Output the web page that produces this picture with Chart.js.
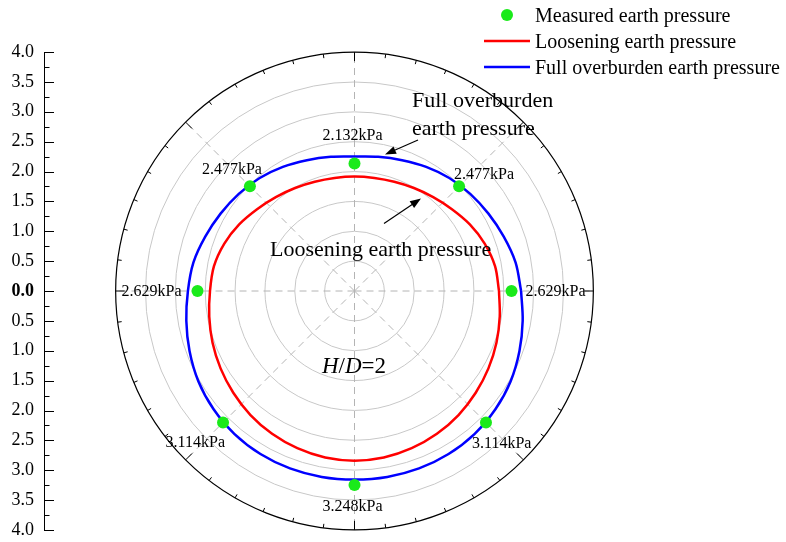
<!DOCTYPE html>
<html>
<head>
<meta charset="utf-8">
<script src="https://cdn.jsdelivr.net/npm/chart.js@4.4.1/dist/chart.umd.min.js"></script>
<style>
  body { margin: 0; background: #fff; }
  canvas { display: block; }
</style>
</head>
<body>
<canvas id="polar" width="786" height="542"></canvas>
<script>
// polar angle in degrees, counter-clockwise from the right-hand springline
var angles = [0, 10, 20, 30, 40, 50, 60, 70, 80, 90, 100, 110, 120, 130, 140, 150, 160, 170, 180,
              190, 200, 210, 220, 230, 240, 250, 260, 270, 280, 290, 300, 310, 320, 330, 340, 350, 360];
var loosening = [2.42, 2.39, 2.32, 2.23, 2.13, 2.05, 1.99, 1.945, 1.92, 1.915,
                 1.92, 1.945, 1.99, 2.05, 2.13, 2.23, 2.32, 2.39, 2.42,
                 2.47, 2.53, 2.59, 2.65, 2.71, 2.76, 2.80, 2.83, 2.84,
                 2.83, 2.80, 2.76, 2.71, 2.65, 2.59, 2.53, 2.47, 2.42];
var overburden = [2.79, 2.74, 2.66, 2.59, 2.53, 2.47, 2.40, 2.33, 2.28, 2.25,
                  2.28, 2.33, 2.40, 2.47, 2.53, 2.59, 2.66, 2.74, 2.79,
                  2.86, 2.94, 3.02, 3.08, 3.125, 3.15, 3.16, 3.16, 3.155,
                  3.16, 3.16, 3.15, 3.125, 3.08, 3.02, 2.94, 2.86, 2.79];
var measuredAngles = [0, 45, 90, 135, 180, 225, 270, 315];
var measured = [2.629, 2.477, 2.132, 2.477, 2.629, 3.114, 3.248, 3.114];
var rings = [0.5, 1, 1.5, 2, 2.5, 3, 3.5];
var rMax = 4;

var FONT = '"Liberation Serif", "Times New Roman", serif';

function toXY(r, deg) {
  var a = deg * Math.PI / 180;
  return { x: r * Math.cos(a), y: r * Math.sin(a) };
}

// where each measured value label sits, relative to its point (px)
var labelPlace = [
  { dx: 14, dy: 5, align: 'left' },
  { dx: -5, dy: -7, align: 'left' },
  { dx: -2, dy: -24, align: 'center' },
  { dx: 12, dy: -12, align: 'right' },
  { dx: -16, dy: 5, align: 'right' },
  { dx: 2, dy: 24, align: 'right' },
  { dx: -2, dy: 26, align: 'center' },
  { dx: -14, dy: 25, align: 'left' }
];

function arrow(ctx, x0, y0, x1, y1) {
  var a = Math.atan2(y1 - y0, x1 - x0);
  ctx.beginPath();
  ctx.moveTo(x0, y0);
  ctx.lineTo(x1 - 8 * Math.cos(a), y1 - 8 * Math.sin(a));
  ctx.stroke();
  ctx.beginPath();
  ctx.moveTo(x1, y1);
  ctx.lineTo(x1 - 11 * Math.cos(a) + 4 * Math.sin(a), y1 - 11 * Math.sin(a) - 4 * Math.cos(a));
  ctx.lineTo(x1 - 11 * Math.cos(a) - 4 * Math.sin(a), y1 - 11 * Math.sin(a) + 4 * Math.cos(a));
  ctx.closePath();
  ctx.fill();
}

var polarFrame = {
  id: 'polarFrame',
  // pin the radial axis to a fixed span so the plot stays round
  afterLayout: function (chart) {
    var ys = chart.scales.y, area = chart.chartArea;
    ys.top = 52;
    ys.bottom = 530;
    ys.height = ys.bottom - ys.top;
    ys.configure();
    area.top = ys.top;
    area.bottom = ys.bottom;
    area.height = ys.height;
  },
  beforeDatasetsDraw: function (chart) {
    var ctx = chart.ctx, xs = chart.scales.x, ys = chart.scales.y;
    var cx = xs.getPixelForValue(0), cy = ys.getPixelForValue(0);
    var unit = xs.getPixelForValue(1) - cx;
    ctx.save();
    // grey rings
    ctx.strokeStyle = '#c8c8c8';
    ctx.lineWidth = 1;
    rings.forEach(function (r) {
      ctx.beginPath();
      ctx.arc(cx, cy, r * unit, 0, Math.PI * 2);
      ctx.stroke();
    });
    // dashed spokes
    ctx.strokeStyle = '#b4b4b4';
    ctx.setLineDash([7, 5]);
    for (var d = 0; d < 360; d += 45) {
      var p = toXY(rMax, d);
      ctx.beginPath();
      ctx.moveTo(cx, cy);
      ctx.lineTo(xs.getPixelForValue(p.x), ys.getPixelForValue(p.y));
      ctx.stroke();
    }
    ctx.setLineDash([]);
    // outer angular axis with inward ticks
    ctx.strokeStyle = '#000';
    ctx.lineWidth = 1.2;
    ctx.beginPath();
    ctx.arc(cx, cy, rMax * unit, 0, Math.PI * 2);
    ctx.stroke();
    ctx.lineWidth = 1;
    for (var t = 0; t < 360; t += 7.5) {
      var len = t % 45 === 0 ? 9 : 4;
      var a = t * Math.PI / 180;
      var R = rMax * unit;
      ctx.beginPath();
      ctx.moveTo(cx + R * Math.cos(a), cy - R * Math.sin(a));
      ctx.lineTo(cx + (R - len) * Math.cos(a), cy - (R - len) * Math.sin(a));
      ctx.stroke();
    }
    // inward ticks on the radial axis
    var left = chart.chartArea.left;
    for (var v = -rMax; v <= rMax + 1e-9; v += 0.25) {
      var y = Math.round(ys.getPixelForValue(v)) + 0.5;
      var major = Math.abs(v * 2 - Math.round(v * 2)) < 1e-9;
      ctx.beginPath();
      ctx.moveTo(left, y);
      ctx.lineTo(left + (major ? 10 : 5.5), y);
      ctx.stroke();
    }
    ctx.restore();
  },
  afterDraw: function (chart) {
    var ctx = chart.ctx, xs = chart.scales.x, ys = chart.scales.y;
    ctx.save();
    ctx.fillStyle = '#000';
    ctx.strokeStyle = '#000';
    ctx.textBaseline = 'alphabetic';

    // value labels next to the measured points
    ctx.font = '16px ' + FONT;
    measured.forEach(function (v, i) {
      var p = toXY(v, measuredAngles[i]);
      var px = xs.getPixelForValue(p.x), py = ys.getPixelForValue(p.y);
      var lp = labelPlace[i];
      ctx.textAlign = lp.align;
      ctx.fillText(v.toFixed(3) + 'kPa', px + lp.dx, py + lp.dy);
    });

    // call-outs
    ctx.textAlign = 'left';
    ctx.font = '22px ' + FONT;
    ctx.fillText('Full overburden', 412, 107);
    ctx.fillText('earth pressure', 412, 135);
    ctx.fillText('Loosening earth pressure', 270, 256);
    ctx.lineWidth = 1.2;
    arrow(ctx, 418, 140, 385, 154.5);
    arrow(ctx, 384, 223.5, 421, 198.5);

    // H/D=2
    var x = 322, base = 373;
    [['H', 'italic '], ['/', ''], ['D', 'italic '], ['=2', '']].forEach(function (s) {
      ctx.font = s[1] + '23px ' + FONT;
      ctx.fillText(s[0], x, base);
      x += ctx.measureText(s[0]).width;
    });

    // legend
    ctx.font = '20px ' + FONT;
    var rowsY = [15, 41, 67];
    chart.data.datasets.forEach(function (ds, i) {
      var y = rowsY[i];
      if (ds.showLine) {
        ctx.strokeStyle = ds.borderColor;
        ctx.lineWidth = 2.5;
        ctx.beginPath();
        ctx.moveTo(484, y);
        ctx.lineTo(530, y);
        ctx.stroke();
      } else {
        ctx.fillStyle = ds.backgroundColor;
        ctx.beginPath();
        ctx.arc(507, y, 6, 0, Math.PI * 2);
        ctx.fill();
      }
      ctx.fillStyle = '#000';
      ctx.fillText(ds.label, 535, y + 7);
    });
    ctx.restore();
  }
};

function curve(values) {
  return values.map(function (r, i) { return toXY(r, angles[i]); });
}

new Chart(document.getElementById('polar'), {
  type: 'scatter',
  data: {
    datasets: [
      {
        label: 'Measured earth pressure',
        data: measured.map(function (r, i) { return toXY(r, measuredAngles[i]); }),
        backgroundColor: '#1aea1a',
        borderWidth: 0,
        pointRadius: 6,
        showLine: false
      },
      {
        label: 'Loosening earth pressure',
        data: curve(loosening),
        borderColor: '#ff0000',
        borderWidth: 2.5,
        pointRadius: 0,
        showLine: true,
        tension: 0.33
      },
      {
        label: 'Full overburden earth pressure',
        data: curve(overburden),
        borderColor: '#0000ff',
        borderWidth: 2.5,
        pointRadius: 0,
        showLine: true,
        tension: 0.33
      }
    ]
  },
  options: {
    responsive: false,
    animation: false,
    layout: { padding: { top: 52, bottom: 12, left: 0, right: 121 } },
    plugins: { legend: { display: false }, tooltip: { enabled: false } },
    scales: {
      x: { type: 'linear', min: -5.2, max: 5.2, display: false },
      y: {
        type: 'linear',
        min: -4,
        max: 4,
        afterFit: function (s) { s.width = 44; },
        grid: { display: false, drawTicks: false },
        border: { display: true, color: '#000', width: 1 },
        ticks: {
          stepSize: 0.5,
          padding: 10,
          color: '#000',
          font: function (c) {
            return { family: FONT, size: 18, weight: c.tick && c.tick.value === 0 ? 'bold' : 'normal' };
          },
          callback: function (v) { return Math.abs(v).toFixed(1); }
        }
      }
    }
  },
  plugins: [polarFrame]
});
</script>
</body>
</html>
